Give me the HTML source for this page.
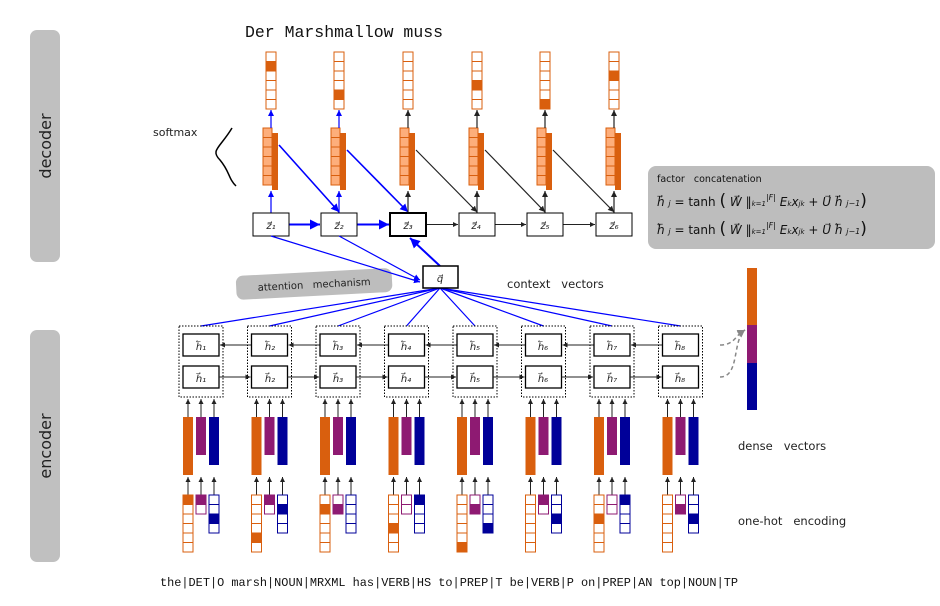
<!DOCTYPE html>
<html><head><meta charset="utf-8"><style>
html,body{margin:0;padding:0;background:#fff;}
svg{display:block;}
text{font-family:"DejaVu Sans","Liberation Sans",sans-serif;}
.mono{font-family:"Liberation Mono","DejaVu Sans Mono",monospace;}
.it{font-family:"DejaVu Sans","Liberation Sans",sans-serif;font-style:italic;}
</style></head><body>
<svg id="s" width="940" height="606" viewBox="0 0 940 606" xmlns="http://www.w3.org/2000/svg">
<defs>
<marker id="ab" markerWidth="6" markerHeight="6" refX="5" refY="3" orient="auto"><path d="M0,0.5 L5,3 L0,5.5z" fill="#00f"/></marker>
<marker id="ak" markerWidth="6" markerHeight="6" refX="5" refY="3" orient="auto"><path d="M0,0.5 L5,3 L0,5.5z" fill="#222"/></marker>
<marker id="ag" markerWidth="6" markerHeight="6" refX="5" refY="3" orient="auto"><path d="M0,0.5 L5,3 L0,5.5z" fill="#888"/></marker>
</defs>
<rect x="30" y="30" width="30" height="232" rx="7" fill="#c0c0c0"/>
<rect x="30" y="330" width="30" height="232" rx="7" fill="#c0c0c0"/>
<text transform="translate(51,146) rotate(-90)" text-anchor="middle" font-size="16" fill="#222">decoder</text>
<text transform="translate(51,446) rotate(-90)" text-anchor="middle" font-size="16" fill="#222">encoder</text>
<text x="245" y="37" class="mono" font-size="16.5" fill="#111">Der Marshmallow muss</text>
<text x="153" y="136" font-size="11" fill="#222">softmax</text>
<path d="M232,128 C220,148 210,150 220,160 C230,172 228,178 236,186" fill="none" stroke="#000" stroke-width="1.5"/>
<g transform="rotate(-3 313 282)"><rect x="236" y="272" width="156" height="24" rx="7" fill="#bdbdbd"/>
<text x="314" y="288" text-anchor="middle" font-size="10" fill="#222">attention&#160;&#160;&#160;mechanism</text></g>
<text x="507" y="288" font-size="11.5" fill="#222">context&#160;&#160;&#160;vectors</text>
<text x="738" y="450" font-size="11.5" fill="#222">dense&#160;&#160;&#160;vectors</text>
<text x="738" y="525" font-size="11.5" fill="#222">one-hot&#160;&#160;&#160;encoding</text>
<rect x="648" y="166" width="287" height="83" rx="8" fill="#bdbdbd"/>
<text x="657" y="182" font-size="9.5" fill="#111">factor&#160;&#160;&#160;concatenation</text>
<text x="657" y="206" font-size="12" fill="#111" class="it">h⃗ <tspan font-size="8">j</tspan>  =  <tspan font-style="normal">tanh</tspan> <tspan font-size="17" font-style="normal">(</tspan> W⃗  ‖<tspan font-size="7">k=1</tspan><tspan font-size="8" dy="-6">|F|</tspan><tspan dy="6"> E</tspan><tspan font-size="7">k</tspan>x<tspan font-size="7">jk</tspan> + U⃗ h⃗ <tspan font-size="8">j−1</tspan><tspan font-size="17" font-style="normal">)</tspan></text>
<text x="657" y="234" font-size="12" fill="#111" class="it">h⃖ <tspan font-size="8">j</tspan>  =  <tspan font-style="normal">tanh</tspan> <tspan font-size="17" font-style="normal">(</tspan> W⃗  ‖<tspan font-size="7">k=1</tspan><tspan font-size="8" dy="-6">|F|</tspan><tspan dy="6"> E</tspan><tspan font-size="7">k</tspan>x<tspan font-size="7">jk</tspan> + U⃗ h⃖ <tspan font-size="8">j−1</tspan><tspan font-size="17" font-style="normal">)</tspan></text>
<rect x="747" y="268" width="10" height="57" fill="#d95f0e"/>
<rect x="747" y="325" width="10" height="38" fill="#8e1a72"/>
<rect x="747" y="363" width="10" height="47" fill="#000099"/>
<text x="160" y="586" class="mono" font-size="11.9" fill="#111">the|DET|O marsh|NOUN|MRXML has|VERB|HS to|PREP|T be|VERB|P on|PREP|AN top|NOUN|TP</text>
<g id="g"></g>
<g id="lbl" font-size="10" fill="#222" class="it">
<text x="271" y="229" text-anchor="middle">z⃗₁</text><text x="339" y="229" text-anchor="middle">z⃗₂</text><text x="408" y="229" text-anchor="middle">z⃗₃</text><text x="476" y="229" text-anchor="middle">z⃗₄</text><text x="545" y="229" text-anchor="middle">z⃗₅</text><text x="614" y="229" text-anchor="middle">z⃗₆</text>
<text x="440" y="282" text-anchor="middle">q⃗</text>
<text x="201" y="350" text-anchor="middle">h⃖₁</text><text x="270" y="350" text-anchor="middle">h⃖₂</text><text x="338" y="350" text-anchor="middle">h⃖₃</text><text x="406" y="350" text-anchor="middle">h⃖₄</text><text x="475" y="350" text-anchor="middle">h⃖₅</text><text x="543" y="350" text-anchor="middle">h⃖₆</text><text x="612" y="350" text-anchor="middle">h⃖₇</text><text x="680" y="350" text-anchor="middle">h⃖₈</text>
<text x="201" y="382" text-anchor="middle">h⃗₁</text><text x="270" y="382" text-anchor="middle">h⃗₂</text><text x="338" y="382" text-anchor="middle">h⃗₃</text><text x="406" y="382" text-anchor="middle">h⃗₄</text><text x="475" y="382" text-anchor="middle">h⃗₅</text><text x="543" y="382" text-anchor="middle">h⃗₆</text><text x="612" y="382" text-anchor="middle">h⃗₇</text><text x="680" y="382" text-anchor="middle">h⃗₈</text>
</g>
</svg>
<script>
var g=document.getElementById('g'),h='';
function R(x,y,w,hh,f,s,sw,ex){h+='<rect x="'+x+'" y="'+y+'" width="'+w+'" height="'+hh+'" fill="'+f+'" stroke="'+(s||'none')+'" stroke-width="'+(sw||1)+'" '+(ex||'')+'/>';}
function L(a,b,c,d,col,w,m,ex){h+='<line x1="'+a+'" y1="'+b+'" x2="'+c+'" y2="'+d+'" stroke="'+col+'" stroke-width="'+(w||1)+'" '+(m?'marker-end="url(#'+m+')"':'')+' '+(ex||'')+'/>';}
var O='#d95f0e',P='#8e1a72',B='#000099';
function cells(x,y,w,ch,n,col,fill,bg){for(var i=0;i<n;i++){R(x,y+i*ch,w,ch,i==fill?col:(bg||'#fff'),col,1);}}
var zx=[253,321,390,459,527,596],outF=[1,4,-1,3,5,2];
for(var i=0;i<6;i++){var x=zx[i],cx=x+18,bl=i<2,col=bl?'#00f':'#222',m=bl?'ab':'ak';
 var sx=x+10;
 R(sx+9,133,6,57,O);cells(sx,128,9,9.5,6,O,-1,'#fdae7b');
 cells(x+13,52,10,9.5,6,O,outF[i]);
 L(cx,213,cx,191,col,1.2,m);L(cx,128,cx,110,col,1.2,m);
 if(i<5){L(x+36,224.5,zx[i+1]-1,224.5,col,bl?2:1,m);L(sx+16,i==0?145:150,zx[i+1]+18,212,col,bl?1.6:1.2,m);}
 R(x,213,36,23,'#fff','#000',i==2?2:1);
}
L(271,236,420,282,'#00f',1.2,'ab');L(339,236,420,280,'#00f',1.2,'ab');L(440,266,410,238,'#00f',2,'ab');
var hot=[[0,0,2],[4,0,1],[1,1,-1],[3,-1,0],[5,1,3],[-1,0,2],[2,-1,0],[-1,1,2]];
for(var j=0;j<8;j++){var Lx=179+68.5*j;L(440,288,Lx+22,326,'#00f',1.2);}
R(423,266,35,22,'#fff','#000',1.5);
for(var j=0;j<8;j++){var Lx=179+68.5*j;
 R(Lx,326,44,71,'none','#000',1,'stroke-dasharray="1.5,1.5"');
 R(Lx+4,334,36,22,'#fff','#000',1.3);R(Lx+4,366,36,22,'#fff','#000',1.3);
 if(j<7){L(Lx+68.5+4,345,Lx+41,345,'#222',1,'ak');L(Lx+40,377,Lx+68.5+3,377,'#222',1,'ak');}
 R(Lx+4,417,10,58,O);R(Lx+17,417,10,38,P);R(Lx+30,417,10,48,B);
 var xs=[Lx+9,Lx+22,Lx+35];for(var k=0;k<3;k++){L(xs[k],417,xs[k],399,'#222',1,'ak');L(xs[k],495,xs[k],477,'#222',1,'ak');}
 var hh=hot[j];cells(Lx+4,495,10,9.5,6,O,hh[0]);cells(Lx+17,495,10,9.5,2,P,hh[1]);cells(Lx+30,495,10,9.5,4,B,hh[2]);
}
h+='<path d="M720,345 C735,345 735,335 745,330" fill="none" stroke="#888" stroke-width="1.5" stroke-dasharray="4,3" marker-end="url(#ag)"/>';
h+='<path d="M720,377 C740,377 732,340 745,330" fill="none" stroke="#888" stroke-width="1.5" stroke-dasharray="4,3" marker-end="url(#ag)"/>';
g.innerHTML=h;
</script>
</body></html>
